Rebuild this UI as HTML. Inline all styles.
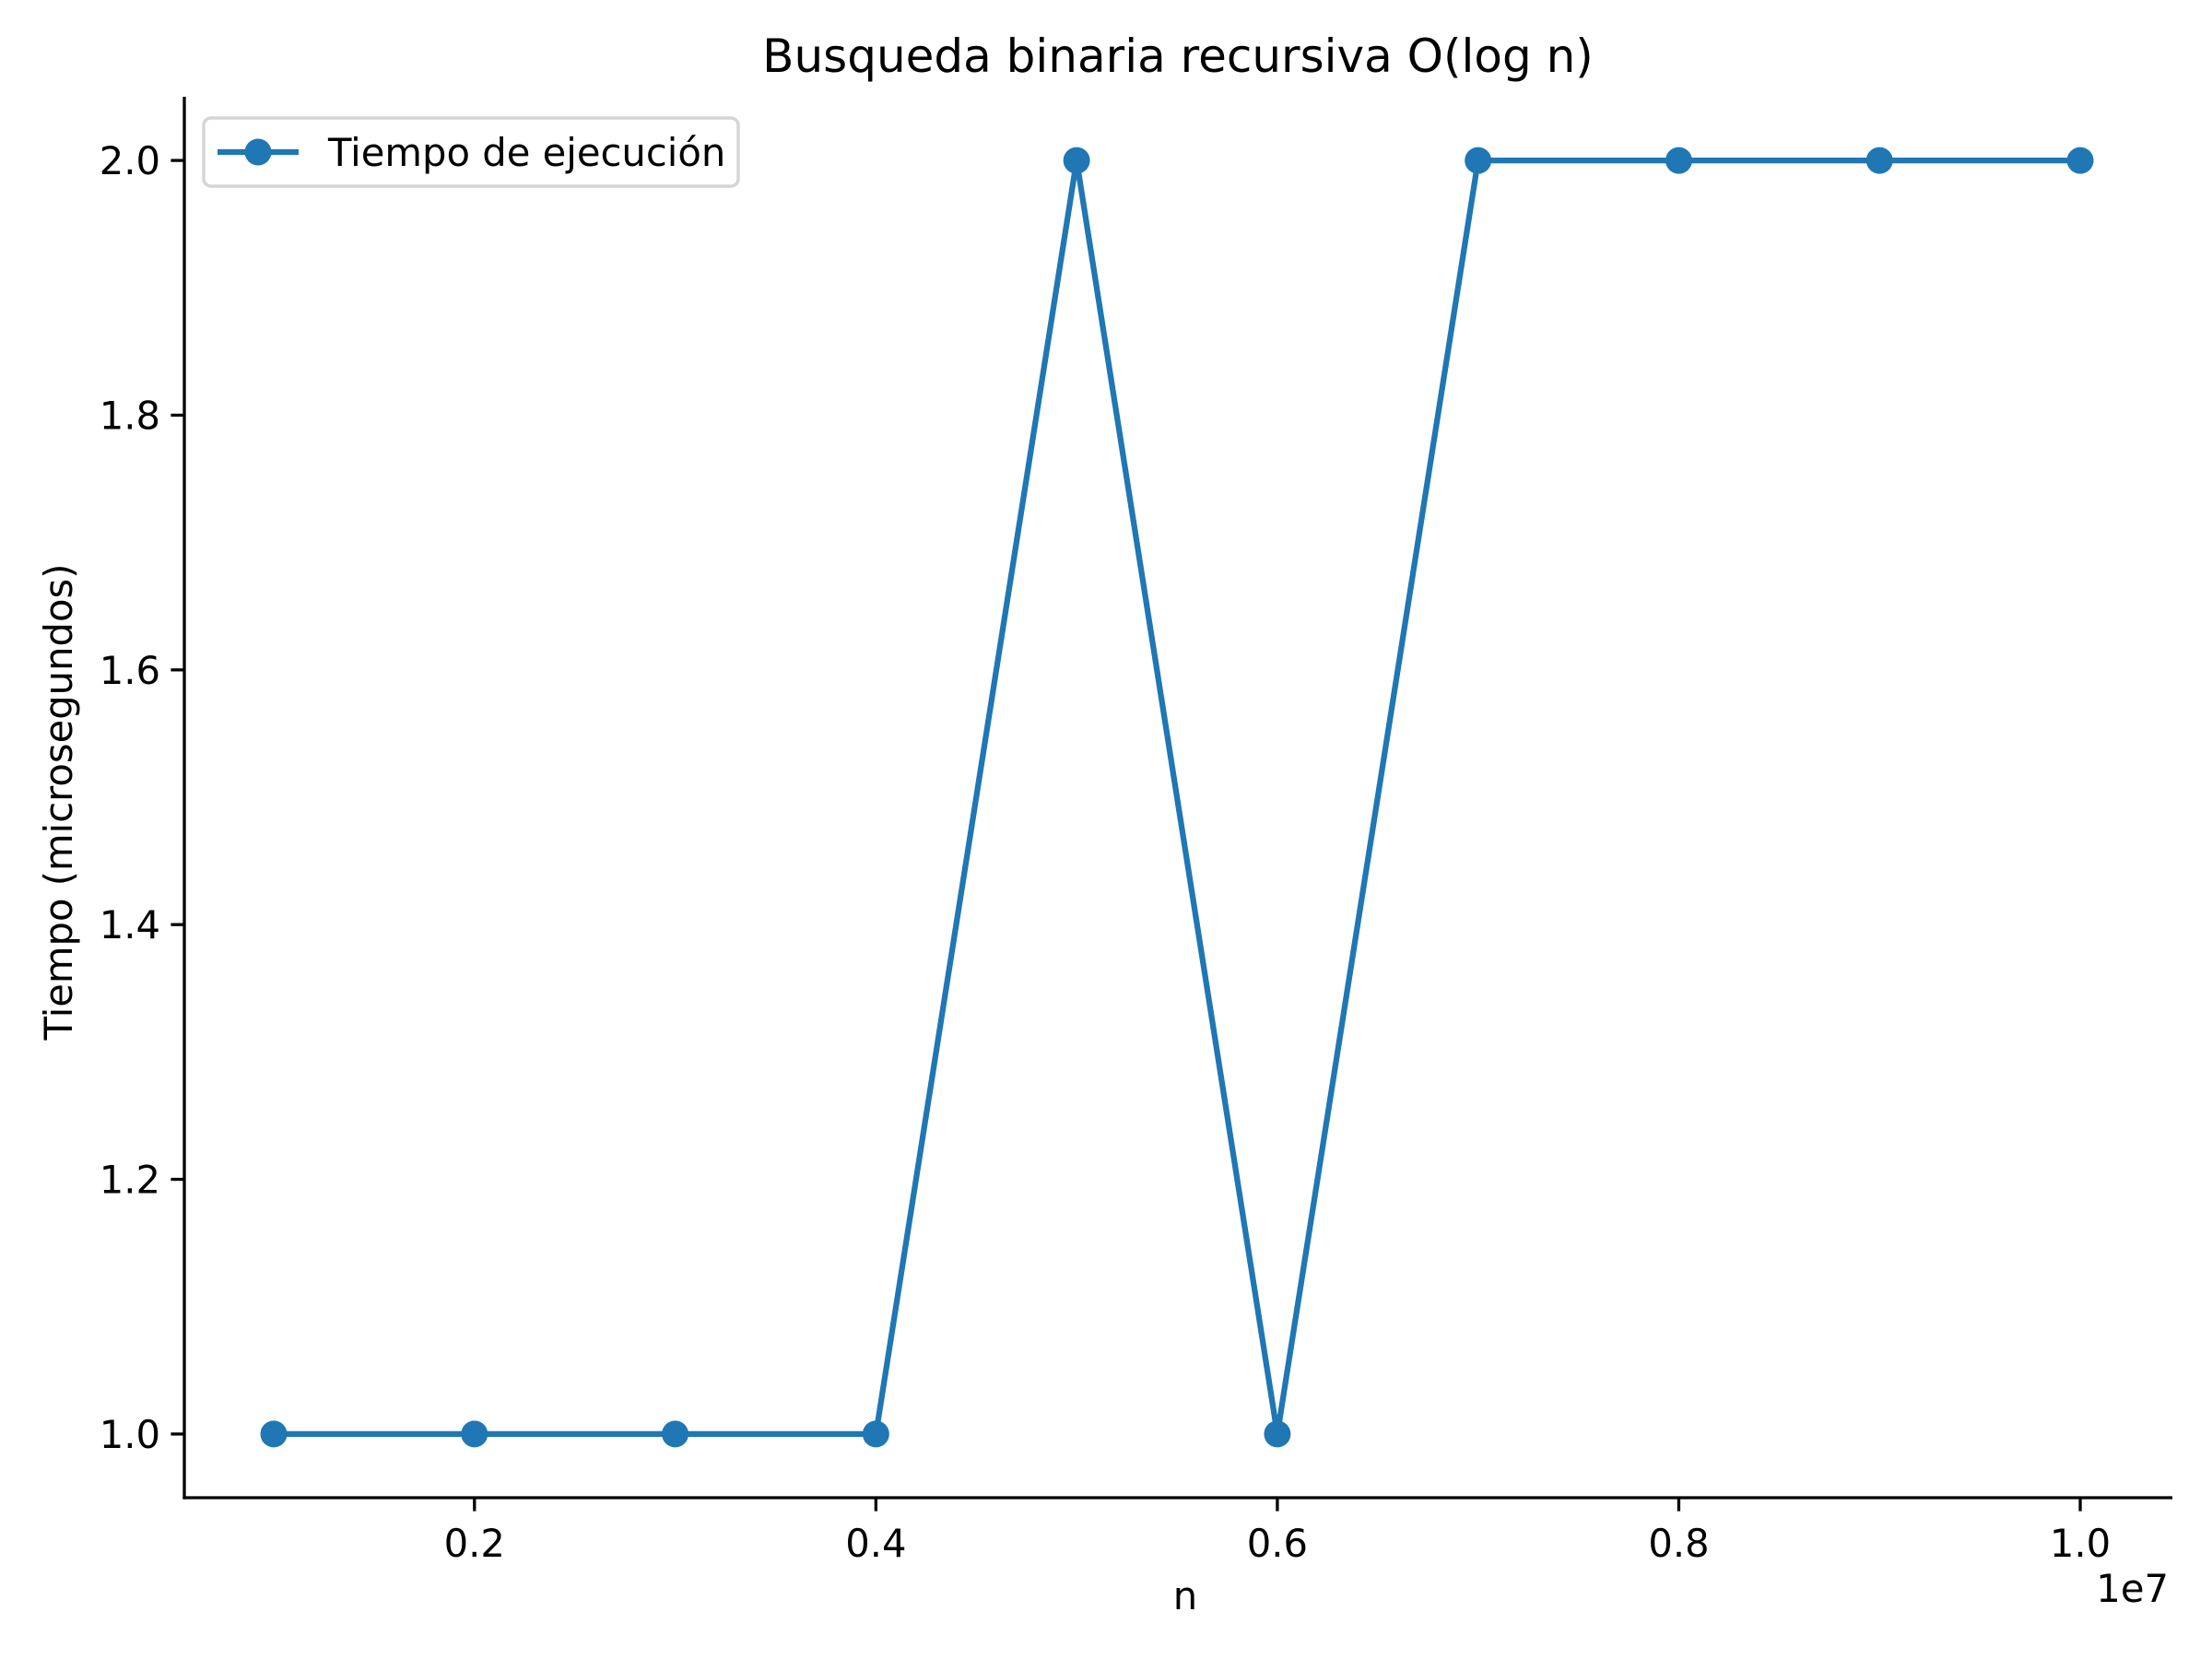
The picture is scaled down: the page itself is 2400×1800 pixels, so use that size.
<!DOCTYPE html>
<html><head><meta charset="utf-8"><style>
html,body{margin:0;padding:0;background:#fff;}
svg{display:block;font-family:"DejaVu Sans","Liberation Sans",sans-serif;}
</style></head><body>
<svg id="chart" width="2400" height="1800" viewBox="0 0 2400 1800" xmlns="http://www.w3.org/2000/svg">
<rect width="2400" height="1800" fill="#fff"/>
<text x="1278" y="78" font-size="50" text-anchor="middle">Busqueda binaria recursiva O(log n)</text>
<g id="axes"></g>
<g id="series"></g>
<g>
<rect x="221" y="128" width="580" height="74" rx="8" fill="#fff" stroke="#d5d5d5" stroke-width="3.5"/>
<line x1="236" y1="165" x2="324" y2="165" stroke="#1f77b4" stroke-width="6.25"/>
<circle cx="280" cy="165" r="14.5" fill="#1f77b4"/>
<text x="356" y="180" font-size="41.7">Tiempo de ejecución</text>
</g>
<text x="1286" y="1746" font-size="41.7" text-anchor="middle">n</text>
<text x="2353" y="1738" font-size="41.7" text-anchor="end">1e7</text>
<text transform="translate(78,870) rotate(-90)" font-size="41.7" text-anchor="middle">Tiempo (microsegundos)</text>
</svg>
<script>
const nValues = [0.1,0.2,0.3,0.4,0.5,0.6,0.7,0.8,0.9,1.0];
const timeValues = [1,1,1,1,2,1,2,2,2,2];
const xTicks = [0.2,0.4,0.6,0.8,1.0];
const yTicks = [1.0,1.2,1.4,1.6,1.8,2.0];
const NS="http://www.w3.org/2000/svg";
const L=200,R=2357,T=105,B=1625;
const xMin=0.05546,xMax=1.0459,yMin=0.95,yMax=2.05;
function sx(v){return L+(v-xMin)/(xMax-xMin)*(R-L);}
function sy(v){return B-(v-yMin)/(yMax-yMin)*(B-T);}
function mk(tag,attrs,parent){const e=document.createElementNS(NS,tag);for(const k in attrs)e.setAttribute(k,attrs[k]);parent.appendChild(e);return e;}
const axes=document.getElementById('axes');
const series=document.getElementById('series');
let a=mk('line',{x1:L,y1:T,x2:L,y2:B+1.6,stroke:'#000','stroke-width':3.3},axes);


a=mk('line',{x1:L-1.6,y1:B,x2:R,y2:B,stroke:'#000','stroke-width':3.3},axes);


xTicks.forEach(v=>{
  const x=sx(v);
  const t=mk('line',{x1:x,y1:B,x2:x,y2:B+14.6,stroke:'#000','stroke-width':3.3},axes);
  
  
  const l=mk('text',{x:x,y:B+64,'font-size':41.7,'text-anchor':'middle'},axes);
  l.textContent=v.toFixed(1);
  
  
});
yTicks.forEach(v=>{
  const y=sy(v);
  const t=mk('line',{x1:L-14.6,y1:y,x2:L,y2:y,stroke:'#000','stroke-width':3.3},axes);
  
  
  const l=mk('text',{x:L-26,y:y+15,'font-size':41.7,'text-anchor':'end'},axes);
  l.textContent=v.toFixed(1);
  
  
});
const pts=nValues.map((n,i)=>sx(n)+','+sy(timeValues[i])).join(' ');
const pl=mk('polyline',{points:pts,fill:'none',stroke:'#1f77b4','stroke-width':6.25,'stroke-linejoin':'round'},series);


nValues.forEach((n,i)=>{
  const c=mk('circle',{cx:sx(n),cy:sy(timeValues[i]),r:14.5,fill:'#1f77b4'},series);
  
  
});
</script>
</body></html>
